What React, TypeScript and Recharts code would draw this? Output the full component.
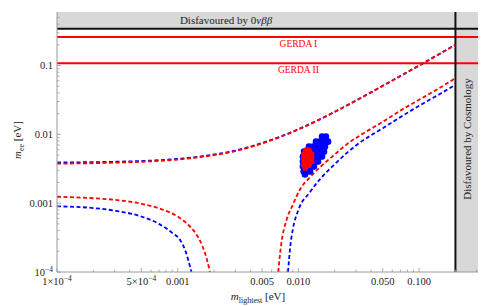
import React from "react";
import {
  ComposedChart,
  Line,
  Scatter,
  XAxis,
  YAxis,
  ReferenceArea,
  ReferenceLine,
  ReferenceDot,
  Label,
} from "recharts";

// m_ee upper bound (both parameter sets almost on top of each other)
const upperX = [1e-4, 3e-4, 5e-4, 1e-3, 2e-3, 3e-3, 5e-3, 7e-3, 0.01, 0.015, 0.02, 0.03, 0.05, 0.07, 0.1, 0.15, 0.2];
const upperBlueY = [0.0039, 0.004, 0.0041, 0.0044, 0.0051, 0.0058, 0.0075, 0.0092, 0.0119, 0.0165, 0.0213, 0.031, 0.0508, 0.0705, 0.1, 0.15, 0.2];
const upperRedY = [0.00375, 0.00388, 0.004, 0.0043, 0.005, 0.0057, 0.0074, 0.0091, 0.0118, 0.0164, 0.0212, 0.0309, 0.0507, 0.0704, 0.1, 0.15, 0.2];

// lower bound, small m_lightest branch
const lowLeftRedX = [1e-4, 2e-4, 3e-4, 5e-4, 7e-4, 1e-3, 1.2e-3, 1.4e-3, 1.6e-3, 1.75e-3, 1.85e-3];
const lowLeftRedY = [0.00124, 0.00118, 0.00112, 0.00098, 0.00084, 0.00064, 0.0005, 0.00037, 0.00024, 0.00015, 0.0001];
const lowLeftBlueX = [1e-4, 2e-4, 3e-4, 5e-4, 7e-4, 9e-4, 1.05e-3, 1.15e-3, 1.25e-3, 1.3e-3];
const lowLeftBlueY = [0.0009, 0.00085, 0.00078, 0.00064, 0.0005, 0.00037, 0.00029, 0.00021, 0.00013, 0.0001];

// lower bound, large m_lightest branch
const lowRightRedX = [0.0068, 0.0072, 0.008, 0.009, 0.0103, 0.0124, 0.015, 0.02, 0.025, 0.035, 0.05, 0.07, 0.1, 0.15, 0.2];
const lowRightRedY = [0.0001, 0.00025, 0.00058, 0.00095, 0.00158, 0.00236, 0.0033, 0.0051, 0.0071, 0.0105, 0.0152, 0.0222, 0.0318, 0.048, 0.0657];
const lowRightBlueX = [0.0082, 0.0086, 0.009, 0.01, 0.0124, 0.015, 0.02, 0.03, 0.05, 0.07, 0.1, 0.15, 0.2];
const lowRightBlueY = [0.0001, 0.00025, 0.00042, 0.0008, 0.00143, 0.0022, 0.0037, 0.0069, 0.0123, 0.0178, 0.026, 0.039, 0.0525];

// scan points
const blueBlobX = [
  0.0157, 0.0169,
  0.014, 0.0151, 0.0163, 0.0176,
  0.01224, 0.01321, 0.01426, 0.01539, 0.01661,
  0.01113, 0.01201, 0.01297, 0.01399, 0.0151, 0.0163,
  0.0109, 0.01156, 0.01248, 0.01346, 0.01454, 0.01569,
  0.0109, 0.01156, 0.01248, 0.01346, 0.01454,
  0.0109, 0.01156, 0.01248, 0.01346,
  0.01105, 0.0118, 0.01248,
  0.01134,
];
const blueBlobY = [
  0.00926, 0.00926,
  0.00784, 0.00784, 0.00784, 0.00784,
  0.00663, 0.00663, 0.00663, 0.00663, 0.00663,
  0.00561, 0.00561, 0.00561, 0.00561, 0.00561, 0.00561,
  0.00475, 0.00475, 0.00475, 0.00475, 0.00475, 0.00475,
  0.00402, 0.00402, 0.00402, 0.00402, 0.00402,
  0.0034, 0.0034, 0.0034, 0.0034,
  0.00288, 0.00288, 0.00288,
  0.00261,
];
const redBlobX = [
  0.01156, 0.01224,
  0.01113, 0.01156, 0.01224, 0.01285,
  0.01113, 0.01156, 0.01224, 0.01285,
  0.01113, 0.01156, 0.01224, 0.01285,
  0.01113, 0.01156, 0.01224,
  0.0114,
];
const redBlobY = [
  0.0059, 0.0059,
  0.0052, 0.0052, 0.0052, 0.0052,
  0.0046, 0.0046, 0.0046, 0.0046,
  0.00405, 0.00405, 0.00405, 0.00405,
  0.00357, 0.00357, 0.00357,
  0.00325,
];

// bounds
const gerdaI = 0.26;
const gerdaII = 0.108;
const bbLimit = 0.344;
const cosmoLimit = 0.2;
const xDomain = [1e-4, 0.3076];
const yDomain = [1e-4, 0.6];

const xMajor = [1e-4, 5e-4, 1e-3, 5e-3, 0.01, 0.05, 0.1];
const xMajorLabels = ["1×10^-4", "5×10^-4", "0.001", "0.005", "0.010", "0.050", "0.100"];
const xMinor = [2e-4, 3e-4, 4e-4, 6e-4, 7e-4, 8e-4, 9e-4, 2e-3, 3e-3, 4e-3, 6e-3, 7e-3, 8e-3, 9e-3, 0.02, 0.03, 0.04, 0.06, 0.07, 0.08, 0.09, 0.2, 0.3];
const yMajor = [1e-4, 1e-3, 0.01, 0.1];
const yMajorLabels = ["10^-4", "0.001", "0.01", "0.1"];
const yMinor = [2e-4, 3e-4, 4e-4, 5e-4, 6e-4, 7e-4, 8e-4, 9e-4, 2e-3, 3e-3, 4e-3, 5e-3, 6e-3, 7e-3, 8e-3, 9e-3, 0.02, 0.03, 0.04, 0.05, 0.06, 0.07, 0.08, 0.09, 0.2, 0.3, 0.4, 0.5];

const zip = (xs: number[], ys: number[]) => xs.map((x, i) => ({ x, y: ys[i] }));

const FONT = "Liberation Serif";
const AXIS = "#9a9a9a";
const RED = "#ff0000";
const BLUE = "#0000ff";

const findMajor = (v: number, majors: number[]) =>
  majors.findIndex((m) => Math.abs(v - m) / m < 1e-6);

// "a^b" -> a with superscript b
const renderTickText = (s: string) => {
  const parts = s.split("^");
  if (parts.length === 1) return s;
  return (
    <>
      {parts[0]}
      <tspan dy={-4} fontSize={7.5}>
        {parts[1].replace("-", "−")}
      </tspan>
    </>
  );
};

const XTick = (props: any) => {
  const { x, y, payload } = props;
  const i = findMajor(payload.value, xMajor);
  return (
    <g>
      <line x1={x} x2={x} y1={y} y2={y - (i >= 0 ? 4 : 2.5)} stroke={AXIS} strokeWidth={0.8} />
      {i >= 0 && (
        <text x={x} y={y + 12.5} textAnchor="middle" fontFamily={FONT} fontSize={10.5} fill="#222">
          {renderTickText(xMajorLabels[i])}
        </text>
      )}
    </g>
  );
};

const YTick = (props: any) => {
  const { x, y, payload } = props;
  const i = findMajor(payload.value, yMajor);
  return (
    <g>
      <line x1={x} x2={x + (i >= 0 ? 4 : 2.5)} y1={y} y2={y} stroke={AXIS} strokeWidth={0.8} />
      {i >= 0 && (
        <text x={x - 4} y={y + 3.5} textAnchor="end" fontFamily={FONT} fontSize={10.5} fill="#222">
          {renderTickText(yMajorLabels[i])}
        </text>
      )}
    </g>
  );
};

const gerdaLabel = (text: string) => (props: any) => {
  const { viewBox } = props;
  return (
    <text x={viewBox.x} y={viewBox.y + 10} textAnchor="middle" fontFamily={FONT} fontSize={9.5} fill={RED}>
      {text}
    </text>
  );
};

const dot = (color: string, r: number) => (p: any) => <circle cx={p.cx} cy={p.cy} r={r} fill={color} />;

const dash = "4 2.5";

export default function App() {
  return (
    <ComposedChart width={487} height={298} margin={{ top: 4, right: 17, bottom: 0, left: 0 }}>
      <XAxis
        type="number"
        dataKey="x"
        scale="log"
        domain={xDomain}
        allowDataOverflow
        ticks={[...xMajor, ...xMinor]}
        interval={0}
        tick={(p: any) => <XTick {...p} />}
        tickLine={false}
        tickSize={0}
        tickMargin={0}
        height={34}
        axisLine={{ stroke: AXIS }}
      >
        <Label
          content={(p: any) => (
            <text x={p.viewBox.x + 201} y={p.viewBox.y + 28} textAnchor="middle" fontFamily={FONT} fontSize={11} fill="#222">
              <tspan fontStyle="italic">m</tspan>
              <tspan dy={2.5} fontSize={8}>lightest</tspan>
              <tspan dy={-2.5}> [eV]</tspan>
            </text>
          )}
        />
      </XAxis>
      <YAxis
        type="number"
        dataKey="y"
        scale="log"
        domain={yDomain}
        allowDataOverflow
        ticks={[...yMajor, ...yMinor]}
        interval={0}
        tick={(p: any) => <YTick {...p} />}
        tickLine={false}
        tickSize={0}
        tickMargin={0}
        width={49}
        axisLine={{ stroke: AXIS }}
      >
        <Label
          content={() => (
            <text x={13} y={132} transform="rotate(-90 13 132)" textAnchor="middle" fontFamily={FONT} fontSize={11} fill="#222">
              <tspan fontStyle="italic">m</tspan>
              <tspan dy={2.5} fontSize={8}>ee</tspan>
              <tspan dy={-2.5}> [eV]</tspan>
            </text>
          )}
        />
      </YAxis>

      <ReferenceArea y1={bbLimit} y2={yDomain[1]} fill="#d8d8d8" fillOpacity={1} stroke="none">
        <Label
          content={(p: any) => (
            <text x={p.viewBox.x + 169} y={p.viewBox.y + 12} textAnchor="middle" fontFamily={FONT} fontSize={11} fill="#222">
              Disfavoured by 0<tspan fontStyle="italic">νββ</tspan>
            </text>
          )}
        />
      </ReferenceArea>
      <ReferenceArea x1={cosmoLimit} x2={xDomain[1]} y1={yDomain[0]} y2={bbLimit} fill="#d8d8d8" fillOpacity={1} stroke="none">
        <Label
          content={(p: any) => {
            const cx = p.viewBox.x + p.viewBox.width / 2 + 4;
            const cy = 131;
            return (
              <text x={cx} y={cy} transform={`rotate(-90 ${cx} ${cy})`} textAnchor="middle" fontFamily={FONT} fontSize={11} fill="#222">
                Disfavoured by Cosmology
              </text>
            );
          }}
        />
      </ReferenceArea>

      <ReferenceLine y={gerdaI} stroke={RED} strokeWidth={1.8} />
      <ReferenceLine y={gerdaII} stroke={RED} strokeWidth={1.8} />
      <ReferenceDot x={0.01} y={gerdaI} r={0} fill="none" stroke="none" label={gerdaLabel("GERDA I")} />
      <ReferenceDot x={0.01} y={gerdaII} r={0} fill="none" stroke="none" label={gerdaLabel("GERDA II")} />
      <ReferenceLine y={bbLimit} stroke="#111" strokeWidth={2} />
      <ReferenceLine x={cosmoLimit} stroke="#111" strokeWidth={2} />

      <Line data={zip(upperX, upperBlueY)} dataKey="y" type="monotone" stroke={BLUE} strokeWidth={1.8} strokeDasharray={dash} dot={false} isAnimationActive={false} />
      <Line data={zip(lowLeftBlueX, lowLeftBlueY)} dataKey="y" type="monotone" stroke={BLUE} strokeWidth={1.8} strokeDasharray={dash} dot={false} isAnimationActive={false} />
      <Line data={zip(lowRightBlueX, lowRightBlueY)} dataKey="y" type="monotone" stroke={BLUE} strokeWidth={1.8} strokeDasharray={dash} dot={false} isAnimationActive={false} />
      <Line data={zip(upperX, upperRedY)} dataKey="y" type="monotone" stroke={RED} strokeWidth={1.8} strokeDasharray={dash} dot={false} isAnimationActive={false} />
      <Line data={zip(lowLeftRedX, lowLeftRedY)} dataKey="y" type="monotone" stroke={RED} strokeWidth={1.8} strokeDasharray={dash} dot={false} isAnimationActive={false} />
      <Line data={zip(lowRightRedX, lowRightRedY)} dataKey="y" type="monotone" stroke={RED} strokeWidth={1.8} strokeDasharray={dash} dot={false} isAnimationActive={false} />

      <Scatter data={zip(blueBlobX, blueBlobY)} shape={dot(BLUE, 3.3)} isAnimationActive={false} />
      <Scatter data={zip(redBlobX, redBlobY)} shape={dot(RED, 2.9)} isAnimationActive={false} />
    </ComposedChart>
  );
}
